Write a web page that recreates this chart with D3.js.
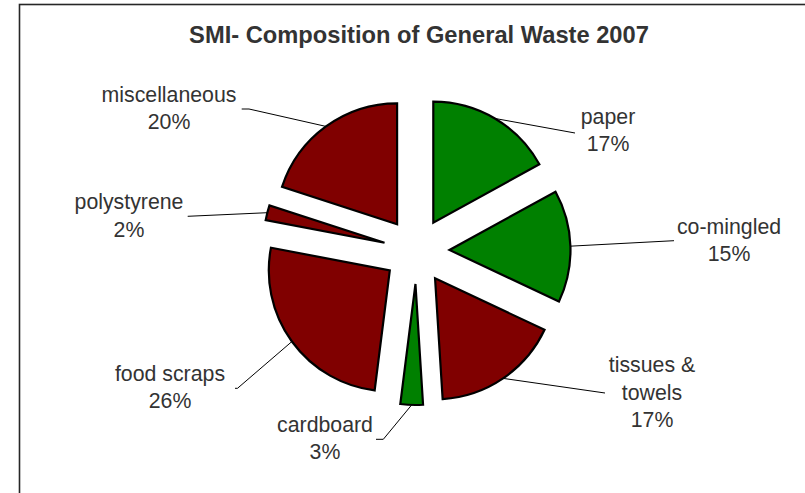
<!DOCTYPE html>
<html>
<head>
<meta charset="utf-8">
<script src="https://cdn.jsdelivr.net/npm/d3@7"></script>
<style>
  html, body { margin: 0; padding: 0; background: #fff; }
  svg { display: block; }
  text { font-family: "Liberation Sans", Arial, sans-serif; fill: #333; }
</style>
</head>
<body>
<svg id="chart" width="805" height="493"></svg>
<script>
// ---- data ----
const title = "SMI- Composition of General Waste 2007";
const categories = ["paper", "co-mingled", "tissues & towels", "cardboard", "food scraps", "polystyrene", "miscellaneous"];
const labelLines = [["paper"], ["co-mingled"], ["tissues &", "towels"], ["cardboard"], ["food scraps"], ["polystyrene"], ["miscellaneous"]];
const values = [17, 15, 17, 3, 26, 2, 20];
const colorGroup = ["green", "green", "red", "green", "red", "red", "red"];

// ---- layout (not data) ----
const W = 805, H = 493;
const cx = 416.5, cy = 251, R = 121, explode = 33;
const colors = { green: "#008000", red: "#800000" };
// label text anchor (center x, first baseline y) and leader start point(s)
const labelLayout = [
  { x: 608, y: 123.5, leader: [[575, 133]] },
  { x: 729, y: 233.5, leader: [[674, 240.7]] },
  { x: 652, y: 372,   leader: [[605, 393]] },
  { x: 325, y: 431.7, leader: [[376, 439.3], [383.3, 439.3]] },
  { x: 170, y: 380.7, leader: [[235, 388.3], [237.5, 388.3]] },
  { x: 129, y: 209.3, leader: [[187.7, 216.3]] },
  { x: 169, y: 101.7, leader: [[241.7, 109], [249, 109]] }
];
const lineH = 27.6;

const svg = d3.select("#chart");

// border (top + left visible; right/bottom outside the view)
svg.append("rect")
  .attr("x", 19.5).attr("y", 4.5)
  .attr("width", W + 20).attr("height", H + 20)
  .attr("fill", "none").attr("stroke", "#262626").attr("stroke-width", 1.6);

// title
svg.append("text")
  .attr("x", 419).attr("y", 43.3)
  .attr("text-anchor", "middle")
  .style("font-size", "23.7px").style("font-weight", "bold")
  .text(title);

const pie = d3.pie().sort(null).value(d => d).startAngle(0).endAngle(2 * Math.PI);
const arcs = pie(values);
const arc = d3.arc().innerRadius(0).outerRadius(R);

const g = svg.append("g").attr("transform", `translate(${cx},${cy})`);

function offsetOf(a) {
  const m = (a.startAngle + a.endAngle) / 2;
  return [explode * Math.sin(m), -explode * Math.cos(m)];
}

// leader lines
const lineGen = d3.line();
arcs.forEach((a, i) => {
  const m = (a.startAngle + a.endAngle) / 2;
  const [ox, oy] = offsetOf(a);
  const px = cx + ox + R * Math.sin(m);
  const py = cy + oy - R * Math.cos(m);
  const pts = labelLayout[i].leader.concat([[px, py]]);
  svg.append("path")
    .attr("d", lineGen(pts))
    .attr("fill", "none")
    .attr("stroke", "#000")
    .attr("stroke-width", 1);
});

// slices
g.selectAll("path.slice")
  .data(arcs)
  .join("path")
  .attr("class", "slice")
  .attr("transform", d => { const [ox, oy] = offsetOf(d); return `translate(${ox},${oy})`; })
  .attr("d", arc)
  .attr("fill", (d, i) => colors[colorGroup[i]])
  .attr("stroke", "#000")
  .attr("stroke-width", 2.2)
  .attr("stroke-linejoin", "miter");

// labels
arcs.forEach((a, i) => {
  const L = labelLayout[i];
  const lines = labelLines[i].concat([values[i] + "%"]);
  const t = svg.append("text")
    .attr("text-anchor", "middle")
    .style("font-size", "21.3px");
  lines.forEach((s, j) => {
    t.append("tspan").attr("x", L.x).attr("y", L.y + j * lineH).text(s);
  });
});
</script>
</body>
</html>
